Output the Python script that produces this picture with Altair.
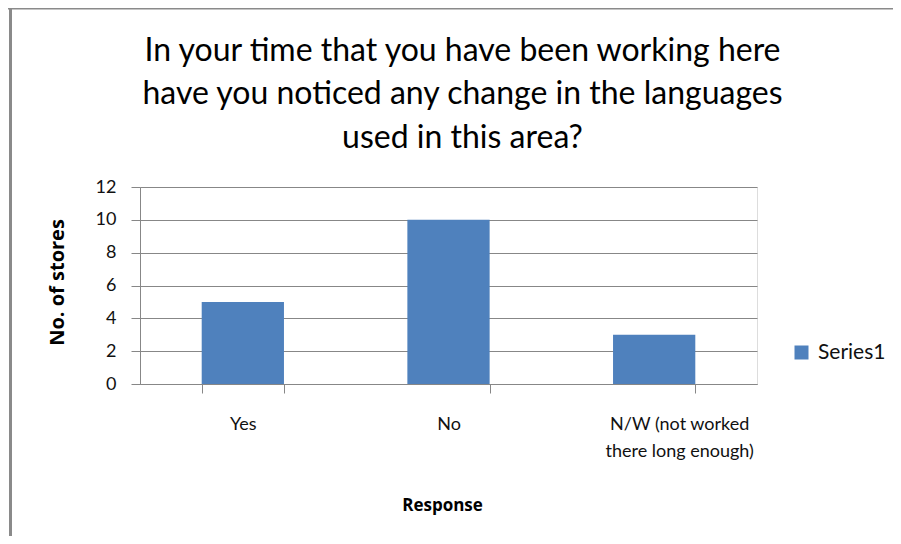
import altair as alt
import pandas as pd

categories = ["Yes", "No", "N/W (not worked there long enough)"]
values = [5, 10, 3]
series = ["Series1", "Series1", "Series1"]
y_ticks = [0, 2, 4, 6, 8, 10, 12]
title_lines = [
    "In your time that you have been working here",
    "have you noticed any change in the languages",
    "used in this area?",
]

df = pd.DataFrame({"Response": categories, "Stores": values, "Series": series})

FONT = "Lato"
BOLD_FONT = "Open Sans"
GRID = "#878787"
W, H = 617, 197
NW = "N/W (not worked there long enough)"

bars = alt.Chart(df).mark_bar(color="#4F81BD").encode(
    x=alt.X(
        "Response:N",
        sort=categories,
        scale=alt.Scale(paddingInner=0.6, paddingOuter=0.3),
        axis=alt.Axis(
            title="Response",
            titleFont=BOLD_FONT,
            titleFontSize=17,
            titleFontWeight="bold",
            titleColor="#000000",
            titleX=302,
            titleY=121,
            titleBaseline="middle",
            labelFont=FONT,
            labelFontSize=18,
            labelColor="#111111",
            labelAngle=0,
            labelPadding=22,
            labelLineHeight=27,
            labelBaseline="top",
            labelOffset={"condition": {"test": f"datum.value == '{NW}'", "value": 25}, "value": 0},
            labelExpr=f"datum.value == '{NW}' ? ['N/W (not worked', 'there long enough)'] : datum.value",
            tickBand="extent",
            tickSize=9,
            tickColor=GRID,
            domainColor=GRID,
            grid=False,
        ),
    ),
    y=alt.Y(
        "Stores:Q",
        scale=alt.Scale(domain=[0, 12], nice=False),
        axis=alt.Axis(
            title="No. of stores",
            titleFont=BOLD_FONT,
            titleFontSize=20,
            titleFontWeight="bold",
            titleColor="#000000",
            titleX=-83,
            titleY=95,
            titleBaseline="middle",
            titleAlign="center",
            values=y_ticks,
            labelFont=FONT,
            labelFontSize=18,
            labelColor="#111111",
            labelPadding=15,
            tickSize=9,
            tickColor=GRID,
            domainColor=GRID,
            gridColor=GRID,
            grid=True,
        ),
    ),
    color=alt.Color(
        "Series:N",
        scale=alt.Scale(range=["#4F81BD"]),
        legend=alt.Legend(
            title=None,
            orient="none",
            legendX=651,
            legendY=155,
            symbolType="square",
            symbolSize=196,
            symbolStrokeWidth=0,
            labelFont=FONT,
            labelFontSize=21,
            labelColor="#111111",
            labelOffset=6,
        ),
    ),
)

frame_df = pd.DataFrame({"k": [0]})
frame_top = alt.Chart(frame_df).mark_rule(color="#8a8a8a", strokeWidth=3).encode(
    x=alt.value(-132), x2=alt.value(770), y=alt.value(-179)
)
frame_left = alt.Chart(frame_df).mark_rule(color="#8a8a8a", strokeWidth=3).encode(
    x=alt.value(-129.5), y=alt.value(-180), y2=alt.value(360)
)

chart = alt.layer(frame_top, frame_left, bars).properties(
    width=W,
    height=H,
    title=alt.TitleParams(
        text=title_lines,
        font=FONT,
        fontSize=32,
        fontWeight="normal",
        color="#000000",
        lineHeight=43.5,
        anchor="middle",
        dx=14,
        dy=149,
        offset=0,
    ),
    autosize=alt.AutoSizeParams(type="none"),
    padding={"left": 132, "top": 179, "right": 136, "bottom": 152},
).configure_view(stroke=None).configure(background="#ffffff")

chart.save("out.html", embed_options={"renderer": "svg", "actions": False})
